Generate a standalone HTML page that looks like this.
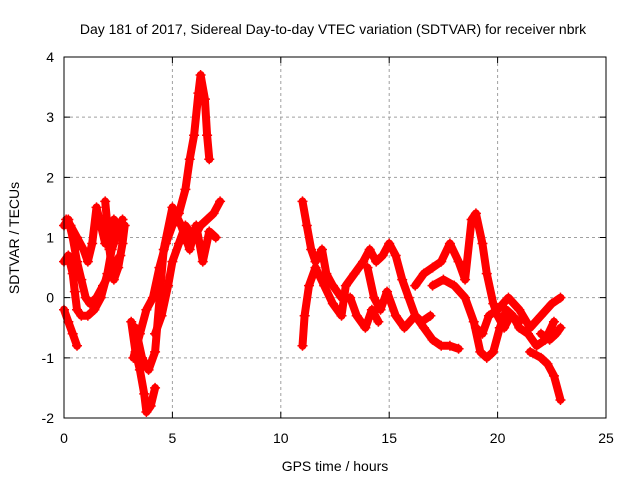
<!DOCTYPE html>
<html><head><meta charset="utf-8"><style>
body{margin:0;background:#fff}
svg{display:block}
text{font-family:"Liberation Sans",sans-serif;font-size:14px;fill:#000}
</style></head><body>
<svg id="chart" width="640" height="480">
<text x="333" y="34" text-anchor="middle">Day 181 of 2017, Sidereal Day-to-day VTEC variation (SDTVAR) for receiver nbrk</text>
<text x="335" y="471" text-anchor="middle">GPS time / hours</text>
<text transform="translate(19,238) rotate(-90)" text-anchor="middle">SDTVAR / TECUs</text>
<g id="grid"></g><g id="ticks"></g><g id="marks"></g>
<rect x="64" y="57" width="542" height="361" fill="none" stroke="#000" stroke-width="1"/>
</svg>
<script>
const xTicks=[0,5,10,15,20,25];
const yTicks=[-2,-1,0,1,2,3,4];
const s1=[[0,1.2],[0.2,1.3],[0.4,1.0],[0.6,0.6],[0.8,0.3],[1.0,0.0],[1.2,-0.1],[1.5,0.0],[1.8,0.2],[2.1,0.4],[2.4,0.6],[2.6,0.7]];
const s2=[[0,0.6],[0.2,0.7],[0.4,0.4],[0.5,0.1],[0.6,-0.2],[0.8,-0.3],[1.1,-0.3],[1.4,-0.2],[1.7,0.0],[2.0,0.4],[2.2,0.8],[2.5,1.1],[2.7,1.3]];
const s3=[[0,-0.2],[0.2,-0.4],[0.4,-0.6],[0.6,-0.8]];
const s4=[[0.1,1.3],[0.3,1.2],[0.6,1.0],[0.9,0.8],[1.1,0.6],[1.3,0.9],[1.5,1.5],[1.7,1.2],[1.9,0.9],[2.1,1.0],[2.3,1.3],[2.5,1.2]];
const s5=[[1.9,1.6],[2.0,1.2],[2.1,0.8],[2.2,0.5],[2.3,0.3],[2.5,0.5],[2.7,0.9],[2.8,1.2]];
const s6=[[3.1,-0.4],[3.3,-0.9],[3.5,-1.2],[3.7,-1.6],[3.8,-1.9],[4.0,-1.8],[4.2,-1.5]];
const s7=[[3.2,-1.0],[3.5,-0.6],[3.8,-0.2],[4.1,0.0],[4.4,0.5],[4.7,0.9],[5.0,1.2],[5.3,1.4],[5.6,1.8],[5.8,2.3],[6.0,2.7],[6.2,3.4],[6.3,3.7],[6.5,3.3],[6.6,2.7],[6.7,2.3]];
const s8=[[4.2,-0.6],[4.5,-0.3],[4.8,0.2],[5.0,0.6],[5.3,0.9],[5.6,1.2],[6.0,1.0],[6.3,1.2],[6.6,1.3],[6.9,1.4],[7.2,1.6]];
const s9=[[3.3,-0.5],[3.6,-1.0],[3.9,-1.2],[4.2,-0.9],[4.6,0.8],[5.0,1.5],[5.4,1.2],[5.8,0.8],[6.1,1.2],[6.4,0.6],[6.7,1.1],[7.0,1.0]];
const s10=[[11.0,1.6],[11.2,1.2],[11.4,0.8],[11.6,0.6],[11.9,0.8],[12.1,0.4],[12.4,0.2],[12.8,0.0],[13.2,0.0],[13.5,-0.3],[13.9,-0.5],[14.2,-0.2],[14.5,-0.4]];
const s11=[[11.0,-0.8],[11.1,-0.3],[11.3,0.2],[11.6,0.5],[12.0,0.2],[12.4,-0.1],[12.8,-0.3],[13.0,0.2],[13.4,0.4],[13.8,0.6],[14.1,0.8],[14.4,0.6],[14.7,0.7],[15.0,0.9],[15.3,0.7],[15.6,0.3],[15.9,0.0],[16.2,-0.3],[16.5,-0.4],[16.9,-0.3]];
const s12=[[14.0,0.5],[14.3,0.0],[14.6,-0.2],[14.9,0.1],[15.3,-0.3],[15.7,-0.5],[16.2,-0.3],[16.6,-0.5],[17.0,-0.7],[17.4,-0.8],[17.8,-0.8],[18.2,-0.85]];
const s13=[[16.2,0.2],[16.6,0.4],[17.0,0.5],[17.4,0.6],[17.8,0.9],[18.2,0.6],[18.5,0.3],[18.8,1.3],[19.0,1.4],[19.3,0.9],[19.5,0.4],[19.8,-0.1],[20.0,-0.3],[20.3,-0.5],[20.6,-0.3],[21.0,-0.4]];
const s14=[[17.0,0.2],[17.5,0.3],[18.0,0.2],[18.5,0.0],[18.9,-0.4],[19.2,-0.9],[19.5,-1.0],[19.8,-0.9],[20.1,-0.5],[20.4,-0.2],[20.7,-0.3],[21.0,-0.5],[21.4,-0.6],[21.8,-0.8],[22.2,-0.7],[22.6,-0.4]];
const s15=[[19.0,-0.5],[19.3,-0.6],[19.6,-0.3],[20.0,-0.2],[20.5,0.0],[21.0,-0.2],[21.5,-0.5],[22.0,-0.3],[22.5,-0.1],[22.9,0.0]];
const s16=[[21.5,-0.9],[22.0,-1.0],[22.3,-1.1],[22.6,-1.3],[22.9,-1.7]];
const s17=[[22.0,-0.6],[22.4,-0.7],[22.7,-0.6],[22.9,-0.5]];
const seriesList=[s1,s2,s3,s4,s5,s6,s7,s8,s9,s10,s11,s12,s13,s14,s15,s16,s17];

const NS="http://www.w3.org/2000/svg";
const X0=64,X1=606,Y0=418,Y1=57;
function xs(h){return X0+(h-0)/(25-0)*(X1-X0);}
function ys(v){return Y0-(v+2)/(4+2)*(Y0-Y1);}
function mk(t,a){const e=document.createElementNS(NS,t);for(const k in a)e.setAttribute(k,a[k]);return e;}
const grid=document.getElementById('grid'),ticks=document.getElementById('ticks'),marks=document.getElementById('marks');
xTicks.forEach(t=>{
  const x=xs(t);
  if(t>0&&t<25){const g=mk('line',{x1:x,x2:x,y1:Y1,y2:Y0,stroke:'#a0a0a0','stroke-dasharray':'3,3'});
  
  grid.appendChild(g);}
  const tk=mk('path',{d:`M${x},${Y0}v-6M${x},${Y1}v6`,stroke:'#000'});
  
  ticks.appendChild(tk);
  const l=mk('text',{x:x,y:Y0+25,'text-anchor':'middle'});l.textContent=t;
  
  ticks.appendChild(l);
});
yTicks.forEach(t=>{
  const y=ys(t);
  if(t>-2&&t<4){const g=mk('line',{x1:X0,x2:X1,y1:y,y2:y,stroke:'#a0a0a0','stroke-dasharray':'3,3'});
  
  grid.appendChild(g);}
  const tk=mk('path',{d:`M${X0},${y}h6M${X1},${y}h-6`,stroke:'#000'});
  
  ticks.appendChild(tk);
  const l=mk('text',{x:X0-10,y:y+5,'text-anchor':'end'});l.textContent=t;
  
  ticks.appendChild(l);
});
seriesList.forEach((s,i)=>{
  const g=mk('g',{});
  
  
  const pts=s.map(p=>xs(p[0]).toFixed(1)+','+ys(p[1]).toFixed(1)).join(' ');
  g.appendChild(mk('polyline',{points:pts,fill:'none',stroke:'#ff0000','stroke-width':8,'stroke-linejoin':'round','stroke-linecap':'round'}));
  s.forEach(p=>{
    const x=xs(p[0]),y=ys(p[1]);
    const m=mk('path',{d:`M${x-5},${y}h10M${x},${y-5}v10`,stroke:'#ff0000','stroke-width':1.5});
    
    
    g.appendChild(m);
  });
  marks.appendChild(g);
});
</script>
</body></html>
